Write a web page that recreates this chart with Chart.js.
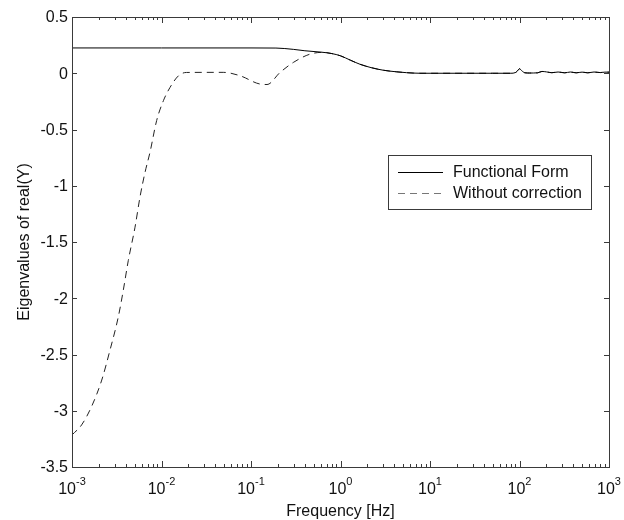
<!DOCTYPE html>
<html>
<head>
<meta charset="utf-8">
<script src="https://cdn.jsdelivr.net/npm/chart.js@4.4.1/dist/chart.umd.min.js"></script>
<style>
  html, body { margin: 0; background: #fff; }
</style>
</head>
<body>
<canvas id="eigChart" width="624" height="520"></canvas>
<script>
// Functional Form (solid)
const ffFreq = [0.001, 0.01, 0.1, 0.19, 0.3, 0.4, 0.6, 0.8, 1.0, 1.3, 1.65, 2.2, 3.0, 4.2, 5.5, 7.7,
  20, 50, 80, 90, 95, 100, 106, 115, 130, 160, 178, 200, 230, 270, 320, 370, 430, 500, 580, 680, 800, 900, 1000];
const ffVals = [0.225, 0.225, 0.225, 0.224, 0.212, 0.2, 0.188, 0.175, 0.155, 0.115, 0.08, 0.05, 0.027, 0.013, 0.005, 0.0,
  0.0, 0.0, 0.0, 0.006, 0.022, 0.04, 0.022, 0.004, 0.002, 0.004, 0.016, 0.012, 0.005, 0.011, 0.004, 0.011, 0.004, 0.01, 0.004, 0.011, 0.006, 0.01, 0.01];

// Without correction (dashed)
const wcFreq = [0.001, 0.00128, 0.00166, 0.00215, 0.00266, 0.00329, 0.00374, 0.00426, 0.00506, 0.00575, 0.00655,
  0.00745, 0.00883, 0.0105, 0.01245, 0.0155, 0.019, 0.049, 0.0753, 0.126, 0.151, 0.211, 0.297, 0.457, 0.646,
  0.8, 1.0, 1.3, 1.65, 2.2, 3.0, 4.2, 5.5, 7.7, 20, 50, 80, 90, 95, 100, 106, 115, 130, 160, 178, 200, 230,
  270, 320, 370, 430, 500, 580, 680, 800, 900, 1000];
const wcVals = [-3.215, -3.126, -2.96, -2.727, -2.46, -2.166, -1.93, -1.663, -1.368, -1.1, -0.88,
  -0.7, -0.42, -0.244, -0.126, -0.022, 0.007, 0.008, -0.022, -0.096, -0.1, 0.007, 0.096, 0.17, 0.186,
  0.175, 0.155, 0.115, 0.08, 0.05, 0.027, 0.013, 0.005, 0.0, 0.0, 0.0, 0.0, 0.006, 0.022, 0.04, 0.022, 0.004,
  0.002, 0.004, 0.016, 0.012, 0.005, 0.011, 0.004, 0.011, 0.004, 0.01, 0.004, 0.011, 0.006, 0.01, 0.01];

const yTicks = [0.5, 0, -0.5, -1, -1.5, -2, -2.5, -3, -3.5];
const yTickLabels = ['0.5', '0', '-0.5', '-1', '-1.5', '-2', '-2.5', '-3', '-3.5'];
const xExponents = [-3, -2, -1, 0, 1, 2, 3];
const seriesNames = ['Functional Form', 'Without correction'];

const FONT = 'Arial, "Liberation Sans", Helvetica, sans-serif';
const AXIS = '#3a3a3a';

// MATLAB style frame, inward ticks, 10^n labels and boxed legend
const matlabFrame = {
  id: 'matlabFrame',
  afterDraw(chart) {
    const { ctx, chartArea: a, scales: { x, y } } = chart;
    ctx.save();
    ctx.strokeStyle = AXIS;
    ctx.lineWidth = 1;
    ctx.strokeRect(Math.round(a.left) + 0.5, Math.round(a.top) + 0.5,
      Math.round(a.right - a.left), Math.round(a.bottom - a.top));

    // x ticks (major + minor) top and bottom
    ctx.beginPath();
    xExponents.forEach((e, i) => {
      const base = Math.pow(10, e);
      const px = Math.round(x.getPixelForValue(base)) + 0.5;
      ctx.moveTo(px, a.bottom); ctx.lineTo(px, a.bottom - 6);
      ctx.moveTo(px, a.top); ctx.lineTo(px, a.top + 6);
      if (i < xExponents.length - 1) {
        for (let m = 2; m <= 9; m++) {
          const mx = Math.round(x.getPixelForValue(base * m)) + 0.5;
          ctx.moveTo(mx, a.bottom); ctx.lineTo(mx, a.bottom - 3);
          ctx.moveTo(mx, a.top); ctx.lineTo(mx, a.top + 3);
        }
      }
    });
    yTicks.forEach(v => {
      const py = Math.round(y.getPixelForValue(v)) + 0.5;
      ctx.moveTo(a.left, py); ctx.lineTo(a.left + 5, py);
      ctx.moveTo(a.right, py); ctx.lineTo(a.right - 5, py);
    });
    ctx.stroke();

    // y tick labels
    ctx.fillStyle = '#111';
    ctx.font = '16px ' + FONT;
    ctx.textAlign = 'right';
    ctx.textBaseline = 'middle';
    yTicks.forEach((v, i) => {
      ctx.fillText(yTickLabels[i], a.left - 4, y.getPixelForValue(v) + 1);
    });

    // x tick labels 10^n
    xExponents.forEach(e => {
      const px = x.getPixelForValue(Math.pow(10, e));
      ctx.font = '16px ' + FONT;
      const w10 = ctx.measureText('10').width;
      ctx.font = '11px ' + FONT;
      const sup = String(e);
      const wSup = ctx.measureText(sup).width;
      const start = px - (w10 + wSup) / 2;
      ctx.textAlign = 'left';
      ctx.textBaseline = 'alphabetic';
      ctx.font = '16px ' + FONT;
      ctx.fillText('10', start, a.bottom + 27);
      ctx.font = '11px ' + FONT;
      ctx.fillText(sup, start + w10, a.bottom + 18);
    });

    // axis titles
    ctx.font = '16px ' + FONT;
    ctx.textAlign = 'center';
    ctx.textBaseline = 'alphabetic';
    ctx.fillText('Frequency [Hz]', (a.left + a.right) / 2, 516);
    ctx.save();
    ctx.translate(29, (a.top + a.bottom) / 2);
    ctx.rotate(-Math.PI / 2);
    ctx.fillText('Eigenvalues of real(Y)', 0, 0);
    ctx.restore();

    // legend box
    const lx = 388, ly = 155, lw = 203, lh = 54;
    ctx.fillStyle = '#fff';
    ctx.fillRect(lx, ly, lw, lh);
    ctx.strokeStyle = AXIS;
    ctx.strokeRect(lx + 0.5, ly + 0.5, lw, lh);
    const rows = [ly + 17, ly + 38];
    ctx.lineWidth = 1;
    ctx.strokeStyle = '#000';
    ctx.setLineDash([]);
    ctx.beginPath(); ctx.moveTo(398, rows[0] + 0.5); ctx.lineTo(443, rows[0] + 0.5); ctx.stroke();
    ctx.strokeStyle = '#777';
    ctx.setLineDash([7, 5]);
    ctx.beginPath(); ctx.moveTo(398, rows[1] + 0.5); ctx.lineTo(443, rows[1] + 0.5); ctx.stroke();
    ctx.setLineDash([]);
    ctx.fillStyle = '#111';
    ctx.font = '16px ' + FONT;
    ctx.textAlign = 'left';
    ctx.textBaseline = 'middle';
    ctx.fillText(seriesNames[0], 453, rows[0] + 1);
    ctx.fillText(seriesNames[1], 453, rows[1] + 1);
    ctx.restore();
  }
};

const ctx = document.getElementById('eigChart').getContext('2d');
new Chart(ctx, {
  type: 'scatter',
  data: {
    datasets: [
      {
        label: seriesNames[0],
        data: ffFreq.map((f, i) => ({ x: f, y: ffVals[i] })),
        showLine: true,
        borderColor: '#000',
        borderWidth: 1,
        pointRadius: 0,
        cubicInterpolationMode: 'monotone',
      },
      {
        label: seriesNames[1],
        data: wcFreq.map((f, i) => ({ x: f, y: wcVals[i] })),
        showLine: true,
        borderColor: '#222',
        borderWidth: 1,
        borderDash: [7, 5],
        pointRadius: 0,
        cubicInterpolationMode: 'monotone',
      },
    ],
  },
  options: {
    responsive: false,
    animation: false,
    layout: { padding: { left: 72, right: 15, top: 17, bottom: 53 } },
    scales: {
      x: {
        type: 'logarithmic',
        min: 0.001,
        max: 1000,
        ticks: { display: false },
        grid: { display: false },
        border: { display: false },
        afterFit: (s) => { s.height = 0; },
      },
      y: {
        min: -3.5,
        max: 0.5,
        ticks: { display: false },
        grid: { display: false },
        border: { display: false },
        afterFit: (s) => { s.width = 0; },
      },
    },
    plugins: {
      legend: { display: false },
      tooltip: { enabled: false },
    },
  },
  plugins: [matlabFrame],
});
</script>
</body>
</html>
